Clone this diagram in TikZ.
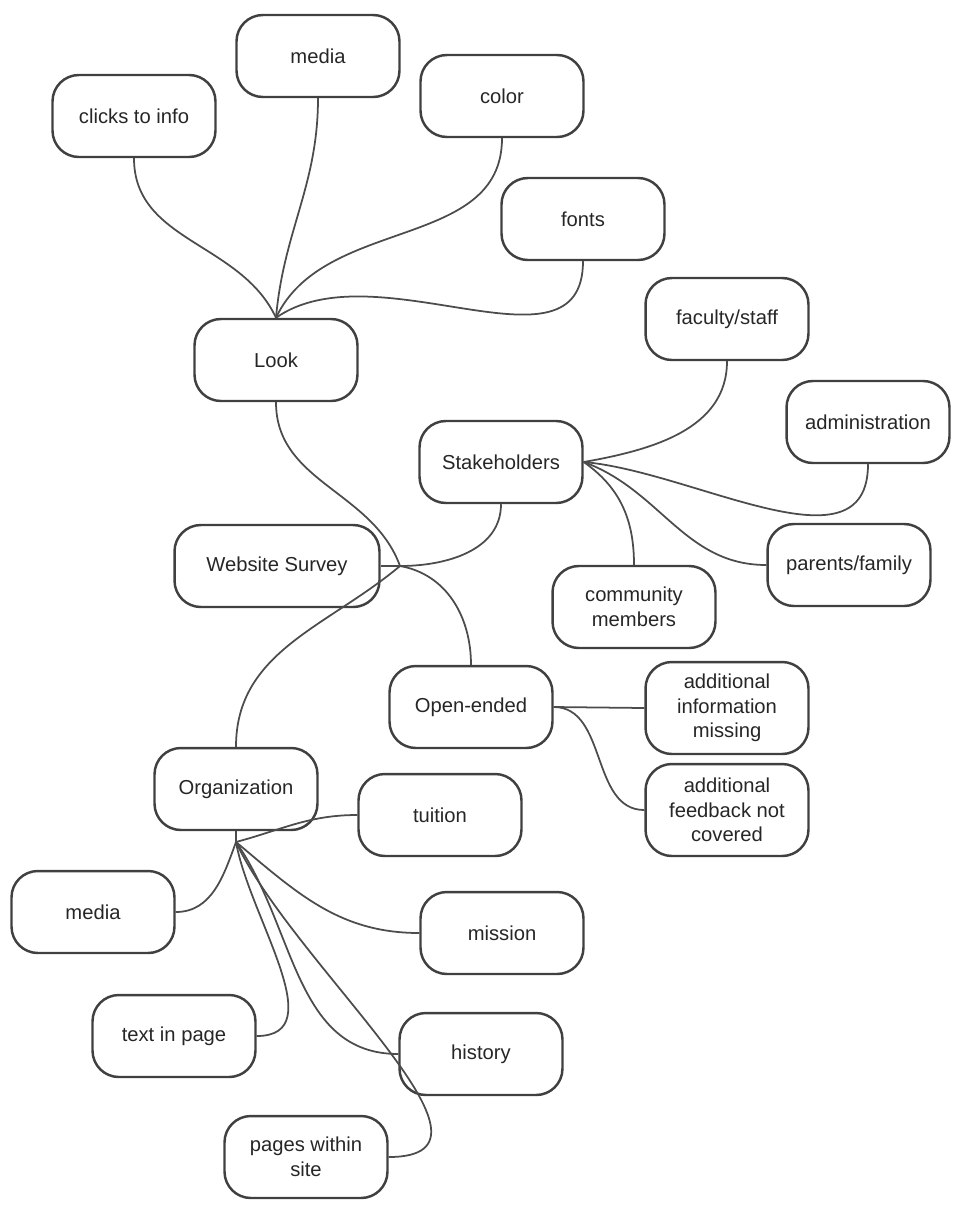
\documentclass[tikz,border=0pt]{standalone}
\usepackage{fontspec}
\setmainfont{Liberation Sans}
\begin{document}
\begin{tikzpicture}[
      x=0.02cm, y=-0.02cm,
      topic/.style={draw=black!75, line width=1.4pt, rounded corners=15pt, minimum width=3.26cm,
        minimum height=1.64cm, align=center, font=\fontsize{11.5}{14}\selectfont, text=black!85},
      link/.style={draw=black!70, line width=1pt}
      ]
      \useasboundingbox (0,0) rectangle (970,1208);
      % look branch
      \node[topic] (clicks) at (134,116) {clicks to info};
      \node[topic] (media) at (318,56) {media};
      \node[topic] (color) at (502,96) {color};
      \node[topic] (fonts) at (583,219) {fonts};
      \node[topic] (look) at (276,360) {Look};
      % centre
      \node[topic, minimum width=4.1cm] (survey) at (277,566) {Website Survey};
      \coordinate (wshub) at (400,566);
      % stakeholders branch
      \node[topic] (faculty) at (727,319) {faculty/staff};
      \node[topic] (admin) at (868,422) {administration};
      \node[topic] (stake) at (501,462) {Stakeholders};
      \node[topic] (community) at (634,607) {community\\members};
      \node[topic] (parents) at (849,565) {parents/family};
      % open-ended branch
      \node[topic] (open) at (471,707) {Open-ended};
      \node[topic, minimum height=1.84cm] (info) at (727,708) {additional\\information\\missing};
      \node[topic, minimum height=1.84cm] (feedback) at (727,810) {additional\\feedback not\\covered};
      % organization branch
      \node[topic] (org) at (236,789) {Organization};
      \coordinate (orghub) at (236,842);
      \node[topic] (tuition) at (440,815) {tuition};
      \node[topic] (media2) at (93,912) {media};
      \node[topic] (mission) at (502,933) {mission};
      \node[topic] (text) at (174,1036) {text in page};
      \node[topic] (history) at (481,1054) {history};
      \node[topic] (pages) at (306,1157) {pages within\\site};

      \draw[link] (clicks.south) to[out=-90,in=115] (look.north);
      \draw[link] (media.south) to[out=-90,in=85] (look.north);
      \draw[link] (color.south) to[out=-90,in=65] (look.north);
      \draw[link] (fonts.south) to[out=-90,in=35] (look.north);
      \draw[link] (look.south) to[out=-90,in=110] (wshub);
      \draw[link] (survey.east) -- (wshub);
      \draw[link] (stake.south) to[out=-90,in=0] (wshub);
      \draw[link] (open.north) to[out=90,in=-10] (wshub);
      \draw[link] (org.north) to[out=90,in=-140] (wshub);

      \draw[link] (faculty.south) to[out=-90,in=10] (stake.east);
      \draw[link] (admin.south) to[out=-90,in=-5] (stake.east);
      \draw[link] (parents.west) to[out=180,in=-20] (stake.east);
      \draw[link] (community.north) to[out=90,in=-35] (stake.east);

      \draw[link] (open.east) -- (info.west);
      \draw[link] (open.east) to[out=0,in=180] (feedback.west);

      \draw[link] (org.south) -- (orghub);
      \draw[link] (tuition.west) to[out=180,in=15] (orghub);
      \draw[link] (media2.east) to[out=0,in=-110] (orghub);
      \draw[link] (mission.west) to[out=180,in=-40] (orghub);
      \draw[link] (text.east) to[out=0,in=-80] (orghub);
      \draw[link] (history.west) to[out=180,in=-55] (orghub);
      \draw[link] (pages.east) to[out=0,in=-65] (orghub);
    \end{tikzpicture}
\end{document}
